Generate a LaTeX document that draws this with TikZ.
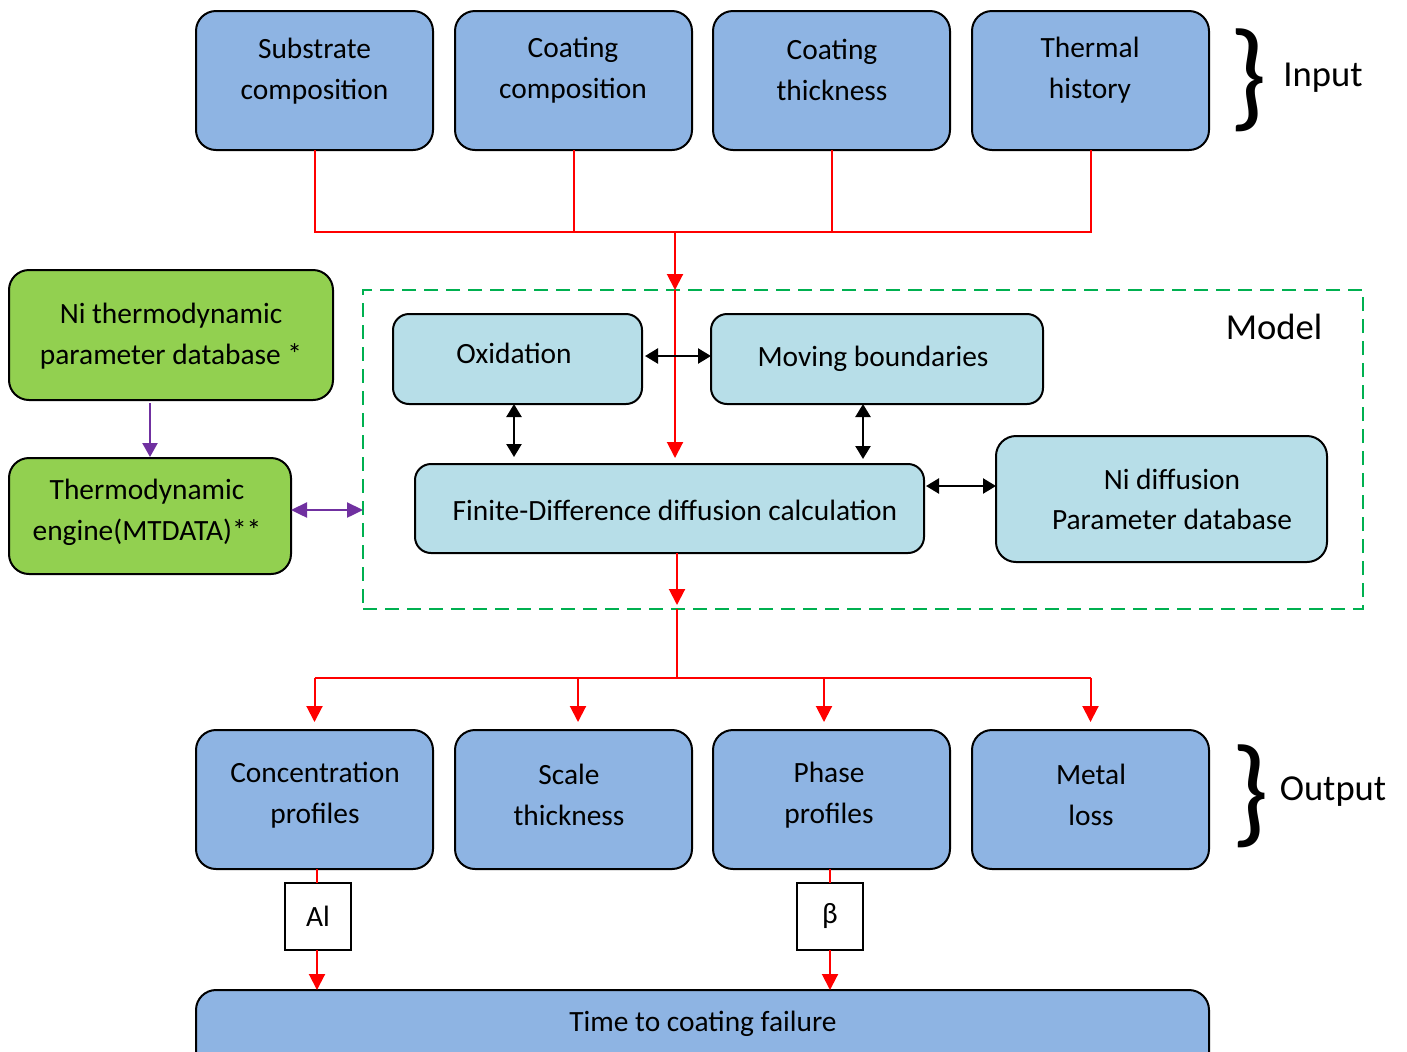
\documentclass[tikz,border=0pt]{standalone}
\usepackage{fontspec}
\setmainfont{Carlito}
\usetikzlibrary{arrows.meta}
\definecolor{inblue}{HTML}{8EB4E3}
\definecolor{ltblue}{HTML}{B7DEE8}
\definecolor{grfill}{HTML}{92D050}
\definecolor{dgreen}{HTML}{00B050}
\definecolor{purp}{HTML}{7030A0}
\definecolor{redl}{HTML}{FF0000}
\begin{document}
\begin{tikzpicture}[x=0.5pt,y=-0.5pt,
  box/.style={draw=black, line width=1pt, inner sep=0pt, outer sep=0pt},
  bluebox/.style={box, fill=inblue, rounded corners=10pt, minimum width=118.5pt, minimum height=69.5pt},
  lbox/.style={box, fill=ltblue, rounded corners=8pt},
  gbox/.style={box, fill=grfill, rounded corners=10pt},
  txt/.style={align=center, inner sep=0pt, yshift=-1.1pt, font=\fontsize{14.7}{20.5}\selectfont},
  bigtxt/.style={inner sep=0pt, yshift=-1pt, font=\fontsize{18.3}{22}\selectfont},
  bracetxt/.style={inner sep=0pt, font=\fontsize{60}{60}\selectfont},
  rline/.style={draw=redl, line width=1pt},
  rarrow/.style={rline, -{Triangle[width=8pt,length=8pt]}},
  barrow/.style={draw=black, line width=1.2pt, {Triangle[width=7.5pt,length=6.5pt]}-{Triangle[width=7.5pt,length=6.5pt]}},
  parrow/.style={draw=purp, line width=1.2pt}
]
\useasboundingbox (0,0) rectangle (1407,1051);
\clip (0,0) rectangle (1407,1051);

% input boxes
\node[bluebox] (sub) at (314.5,80.5) {};
\node[bluebox] (cc)  at (573.5,80.5) {};
\node[bluebox] (ct)  at (831.5,80.5) {};
\node[bluebox] (th)  at (1090.5,80.5) {};
\node[txt] (tsub) at (314.5,69) {Substrate\\composition};
\node[txt] (tcc)  at (573,68) {Coating\\composition};
\node[txt] (tct)  at (832,68) {Coating\\thickness};
\node[txt] (tth)  at (1090,68) {Thermal\\history};

% input brace
\node[bracetxt] (br1) at (1248,80) {\}};
\node[bigtxt] (inlab) at (1323,76) {Input};

% model dashed box
\node[draw=dgreen, line width=1pt, dash pattern=on 7pt off 4pt, minimum width=500pt, minimum height=159.5pt, inner sep=0pt, outer sep=0pt] (model) at (863,449.5) {};
\node[bigtxt] (mlab) at (1274,325) {Model};

% green boxes
\node[gbox, minimum width=162pt, minimum height=65pt] (g1) at (171,335) {};
\node[txt] (tg1) at (171,334) {Ni thermodynamic\\parameter database *};
\node[gbox, minimum width=141pt, minimum height=58pt] (g2) at (150,516) {};
\node[txt] (tg2) at (147,510) {Thermodynamic\\engine(MTDATA)**};

% model boxes
\node[lbox, minimum width=124.5pt, minimum height=45pt] (ox) at (517.5,359) {};
\node[txt] (tox) at (514,351) {Oxidation};
\node[lbox, minimum width=166pt, minimum height=45pt] (mov) at (877,359) {};
\node[txt] (tmov) at (873,357) {Moving boundaries};
\node[lbox, minimum width=254.5pt, minimum height=44.5pt] (fd) at (669.5,508.5) {};
\node[txt] (tfd) at (675,508) {Finite-Difference diffusion calculation};
\node[lbox, rounded corners=10pt, minimum width=165.5pt, minimum height=63pt] (nid) at (1161.5,499) {};
\node[txt, font=\fontsize{14.7}{20}\selectfont] (tnid) at (1172,497) {Ni diffusion\\Parameter database};

% output boxes
\node[bluebox] (conc)  at (314.5,799.5) {};
\node[bluebox] (scale) at (573.5,799.5) {};
\node[bluebox] (phase) at (831.5,799.5) {};
\node[bluebox] (metal) at (1090.5,799.5) {};
\node[txt] (tconc)  at (315,793) {Concentration\\profiles};
\node[txt] (tscale) at (569,793) {Scale\\thickness};
\node[txt] (tphase) at (829,793) {Phase\\profiles};
\node[txt] (tmetal) at (1091,793) {Metal\\loss};

\node[bracetxt] (br2) at (1250,796) {\}};
\node[bigtxt] (outlab) at (1333,790) {Output};

% Al / beta boxes
\node[box, fill=white, minimum width=33pt, minimum height=33.5pt] (al) at (318,916.5) {};
\node[txt] (tal) at (318,914) {Al};
\node[box, fill=white, minimum width=33pt, minimum height=33.5pt] (beta) at (830,916.5) {};
\node[txt] (tbeta) at (830,914) {β};

% time box
\node[box, fill=inblue, rounded corners=10pt, minimum width=506.5pt, minimum height=45pt] (time) at (702.5,1035) {};
\node[txt] (ttime) at (703,1022) {Time to coating failure};

% coordinates
\coordinate (j1) at (675,232);
\coordinate (j2) at (677,678);
\coordinate (x514) at (514,0);
\coordinate (x863) at (863,0);
\coordinate (y486) at (0,486);
\coordinate (y510) at (0,510);
\coordinate (x578) at (578,0);
\coordinate (x824) at (824,0);
\coordinate (x317) at (317,0);

% input tree
\draw[rline] (sub.south) |- (th.south |- j1) -- (th.south);
\draw[rline] (cc.south) -- (cc.south |- j1);
\draw[rline] (ct.south) -- (ct.south |- j1);
\coordinate (mtop) at (model.north -| j1);
\draw[rarrow] (j1) -- (mtop);
\draw[rarrow] (mtop) -- ([yshift=3pt]fd.north -| j1);

% model internal arrows
\draw[barrow] ([xshift=1.5pt,yshift=1.5pt]ox.east) -- ([yshift=1.5pt]mov.west);
\draw[barrow] (ox.south -| x514) -- ([yshift=3.5pt]fd.north -| x514);
\draw[barrow] (mov.south -| x863) -- ([yshift=2.5pt]fd.north -| x863);
\draw[barrow] ([xshift=1pt]fd.east |- y486) -- (nid.west |- y486);

% green arrows
\draw[parrow, -{Triangle[width=7.5pt,length=7pt]}] ([yshift=-1.5pt]g2.north |- g1.south) -- ([yshift=0.5pt]g2.north);
\draw[parrow, {Triangle[width=7.5pt,length=8pt]}-{Triangle[width=7.5pt,length=8pt]}] (g2.east |- y510) -- (model.west |- y510);

% output tree
\coordinate (mbot) at (model.south -| j2);
\draw[rarrow] (fd.south -| j2) -- ([yshift=2pt]mbot);
\draw[rline] (mbot) -- (j2);
\draw[rline] (conc.north |- j2) -- (metal.north |- j2);
\draw[rarrow, shorten >=4pt] (conc.north |- j2) -- (conc.north);
\draw[rarrow, shorten >=4pt] (x578 |- j2) -- (scale.north -| x578);
\draw[rarrow, shorten >=4pt] (x824 |- j2) -- (phase.north -| x824);
\draw[rarrow, shorten >=4pt] (metal.north |- j2) -- (metal.north);

% to time
\draw[rline] (conc.south -| x317) -- (al.north -| x317);
\draw[rarrow] (al.south -| x317) -- (time.north -| x317);
\draw[rline] (phase.south -| beta) -- (beta.north);
\draw[rarrow] (beta.south) -- (time.north -| beta);
\end{tikzpicture}
\end{document}
